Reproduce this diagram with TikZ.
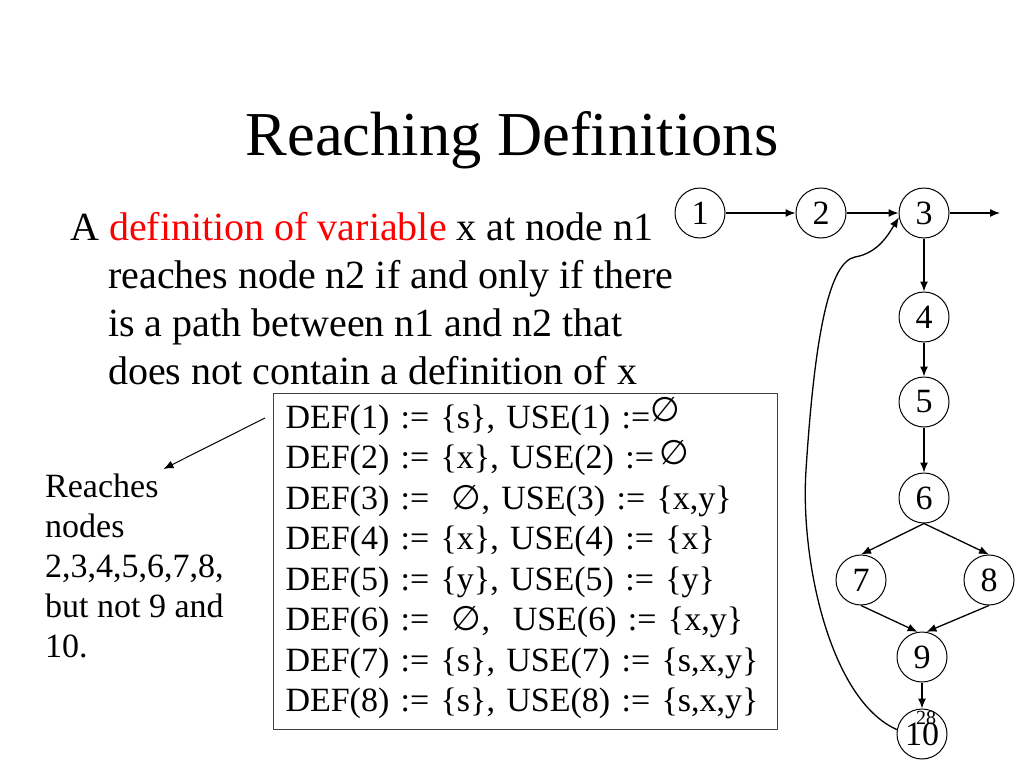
\documentclass[tikz,border=0pt]{standalone}
\usepackage{fontspec}
\setmainfont{Liberation Serif}
\newfontfamily\symfont{DejaVu Sans}
\usetikzlibrary{positioning,arrows.meta}
\newcommand{\nul}{{\symfont\char"2205}}

\begin{document}
\begin{tikzpicture}[
  x=1pt, y=-1pt,
  vtx/.style={draw, circle, minimum size=50pt, inner sep=0pt, line width=1pt, font=\fontsize{34}{40}\selectfont},
  box/.style={draw=black!75, line width=1pt, align=left, text width=480pt, inner xsep=12pt, inner ysep=11pt, font=\fontsize{34}{40.5}\selectfont},
  txt/.style={anchor=north west, inner sep=0pt, align=left},
  arr/.style={-{Latex[length=10pt,width=8pt]}, line width=1.3pt}
]
\useasboundingbox (0,0) rectangle (1024,768);

\node[anchor=base, font=\fontsize{62.5}{70}\selectfont] (title) at (512,155) {Reaching Definitions};

\node[txt, font=\fontsize{40}{48}\selectfont] (intro) at (70,212) {A \textcolor{red}{definition of variable} x at node n1\\
\hspace*{38pt}reaches node n2 if and only if there\\
\hspace*{38pt}is a path between n1 and n2 that\\
\hspace*{38pt}does not contain a definition of x};

\node[box, anchor=north west] (defs) at (273,393) {DEF(1) := \{s\}, USE(1) :=\raisebox{7pt}[0pt][0pt]{\nul}\\
DEF(2) := \{x\}, USE(2) :=\,\raisebox{4pt}[0pt][0pt]{\nul}\\
DEF(3) := \ \nul, USE(3) := \{x,y\}\\
DEF(4) := \{x\}, USE(4) := \{x\}\\
DEF(5) := \{y\}, USE(5) := \{y\}\\
DEF(6) := \ \nul, \ USE(6) := \{x,y\}\\
DEF(7) := \{s\}, USE(7) := \{s,x,y\}\\
DEF(8) := \{s\}, USE(8) := \{s,x,y\}};

\node[txt, font=\fontsize{34}{40}\selectfont] (reach) at (45,474) {Reaches\\nodes\\2,3,4,5,6,7,8,\\but not 9 and\\10.};
\coordinate (ptr) at (265,418);
\draw[arr, line width=1pt] (ptr) -- ([xshift=29pt,yshift=5pt]reach.north);

\node[vtx] (n1) at (700,213) {1};
\node[vtx, right=70pt of n1] (n2) {2};
\node[vtx, right=52pt of n2] (n3) {3};
\node[vtx, below=53pt of n3] (n4) {4};
\node[vtx, below=34pt of n4] (n5) {5};
\node[vtx, below=45pt of n5] (n6) {6};
\node[vtx] (n7) at (861,580) {7};
\node[vtx] (n8) at (989,580) {8};
\node[vtx] (n9) at (922,657) {9};
\node[vtx, below=26pt of n9] (n10) {10};
\coordinate (out3) at (1000,213);
\node[font=\fontsize{20}{24}\selectfont] (pgno) at (926,718) {28};

\draw[arr] (n1) -- (n2);
\draw[arr] (n2) -- (n3);
\draw[arr] (n3) -- (out3);
\draw[arr] (n3) -- (n4);
\draw[arr] (n4) -- (n5);
\draw[arr] (n5) -- (n6);
\draw[arr] (n6.south) -- (n7.north);
\draw[arr] (n6.south) -- (n8.north);
\draw[arr] (n7.south) -- (n9.100);
\draw[arr] (n8.south) -- (n9.80);
\draw[arr] (n9) -- (n10);
\draw[arr] (n10.170) .. controls (830,700) and (800,560) .. (806,470)
  .. controls (815,330) and (830,262) .. (855,257)
  .. controls (878,253) and (888,235) .. (n3.190);

\end{tikzpicture}
\end{document}
